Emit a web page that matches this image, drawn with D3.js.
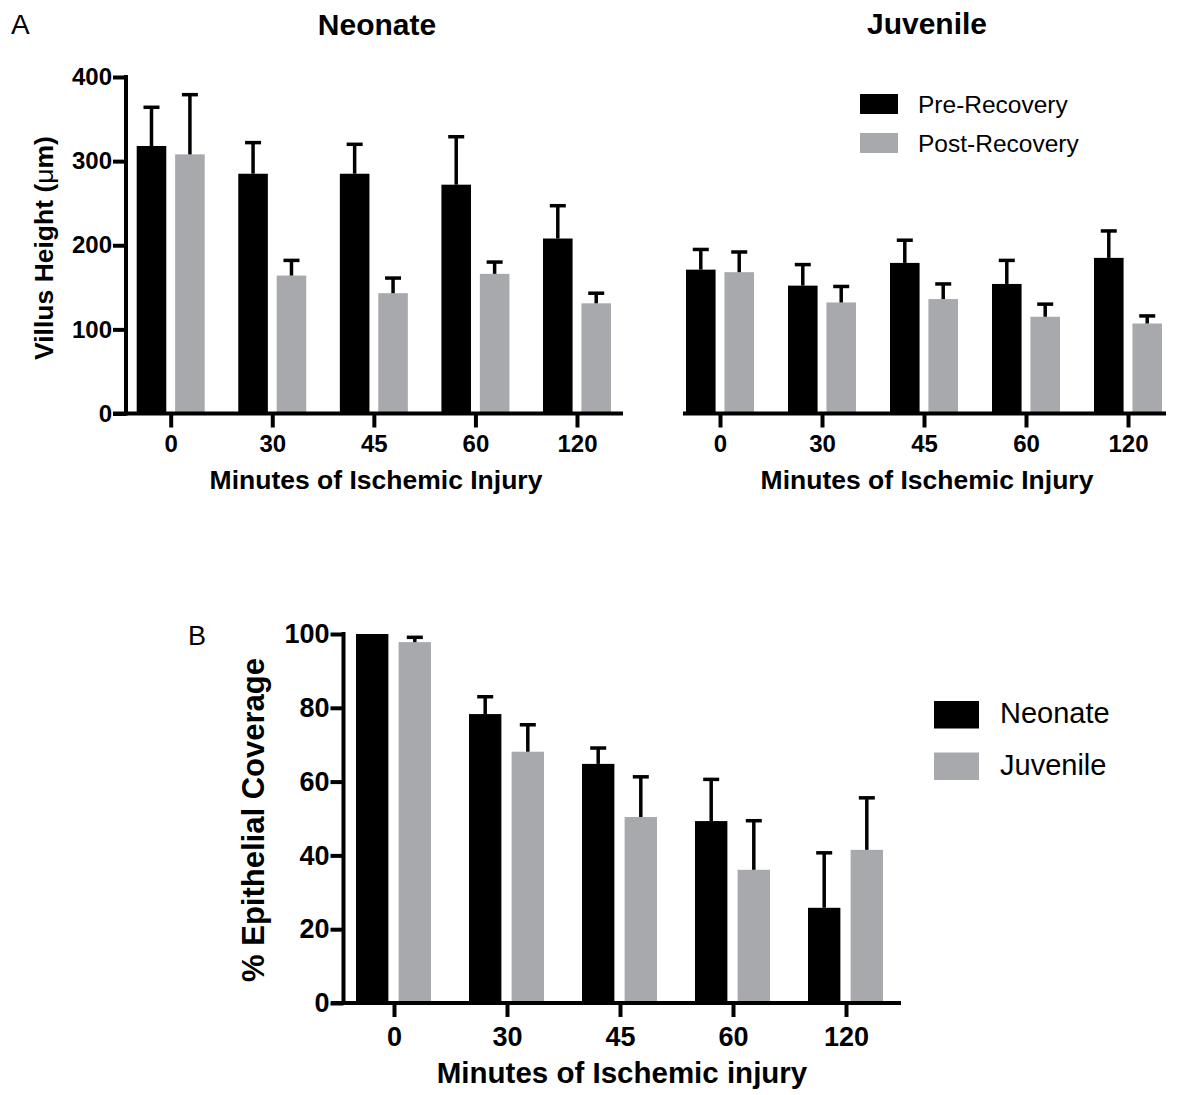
<!DOCTYPE html>
<html>
<head>
<meta charset="utf-8">
<script src="https://cdn.jsdelivr.net/npm/d3@7"></script>
<style>
  body { margin: 0; background: #fff; }
  svg { display: block; font-family: "Liberation Sans", Arial, sans-serif; }
</style>
</head>
<body>
<div id="chart"></div>
<script>
// minutes of ischemic injury
const categories = ['0', '30', '45', '60', '120'];

// panel A, villus height (um): means and upper error (SEM)
const neonatePre = [318, 285, 285, 272, 208];
const neonatePreErr = [46, 37, 35, 57, 39];
const neonatePost = [308, 164, 143, 166, 131];
const neonatePostErr = [71, 18, 18, 14, 12];

const juvenilePre = [171, 152, 179, 154, 185];
const juvenilePreErr = [24, 25, 27, 28, 32];
const juvenilePost = [168, 132, 136, 115, 107];
const juvenilePostErr = [24, 19, 18, 15, 9];

const heightTicks = [0, 100, 200, 300, 400];

// panel B, % epithelial coverage
const coverageNeonate = [100, 78.3, 64.8, 49.3, 25.8];
const coverageNeonateErr = [0, 4.7, 4.3, 11.3, 14.9];
const coverageJuvenile = [97.8, 68.1, 50.4, 36.1, 41.5];
const coverageJuvenileErr = [1.3, 7.3, 10.9, 13.3, 14.1];

const coverageTicks = [0, 20, 40, 60, 80, 100];

const BLACK = '#000';
const GRAY = '#a8a9ac';

const svg = d3.select('#chart')
  .append('svg')
  .attr('width', 1179)
  .attr('height', 1095);

function drawBars(x, y, inner, series) {
  const g = svg.append('g');
  series.forEach((s, si) => {
    const key = inner.domain()[si];
    const rows = categories.map((c, i) => ({ c, v: s.values[i], e: s.errors[i] }));
    g.selectAll(null)
      .data(rows)
      .enter()
      .append('rect')
      .attr('x', d => x(d.c) + inner(key))
      .attr('y', d => y(d.v))
      .attr('width', inner.bandwidth())
      .attr('height', d => y(0) - y(d.v))
      .attr('fill', s.color);

    const err = rows.filter(d => d.e > 0);
    const cx = d => x(d.c) + inner(key) + inner.bandwidth() / 2;
    g.selectAll(null)
      .data(err)
      .enter()
      .append('line')
      .attr('x1', cx).attr('x2', cx)
      .attr('y1', d => y(d.v)).attr('y2', d => y(d.v + d.e))
      .attr('stroke', '#000').attr('stroke-width', 3.5);
    g.selectAll(null)
      .data(err)
      .enter()
      .append('line')
      .attr('x1', d => cx(d) - 8).attr('x2', d => cx(d) + 8)
      .attr('y1', d => y(d.v + d.e)).attr('y2', d => y(d.v + d.e))
      .attr('stroke', '#000').attr('stroke-width', 3.5);
  });
}

function drawXAxis(x, y, x0, x1, fontSize, pad) {
  const g = svg.append('g')
    .attr('transform', `translate(0,${y(0)})`)
    .call(d3.axisBottom(x).tickSize(14).tickPadding(pad));
  g.select('.domain').remove();
  g.selectAll('.tick line').attr('stroke', '#000').attr('stroke-width', 4);
  g.selectAll('.tick text')
    .attr('fill', '#000')
    .style('font-family', '"Liberation Sans", Arial, sans-serif')
    .style('font-weight', 'bold')
    .style('font-size', fontSize + 'px');
  svg.append('line')
    .attr('x1', x0).attr('x2', x1)
    .attr('y1', y(0)).attr('y2', y(0))
    .attr('stroke', '#000').attr('stroke-width', 4);
}

function drawYAxis(y, ax, ticks, fontSize) {
  const g = svg.append('g')
    .attr('transform', `translate(${ax},0)`)
    .call(d3.axisLeft(y).tickValues(ticks).tickSize(13).tickPadding(1));
  g.select('.domain').remove();
  g.selectAll('.tick line').attr('stroke', '#000').attr('stroke-width', 4);
  g.selectAll('.tick text')
    .attr('fill', '#000')
    .style('font-family', '"Liberation Sans", Arial, sans-serif')
    .style('font-weight', 'bold')
    .style('font-size', fontSize + 'px');
  const [lo, hi] = d3.extent(ticks);
  svg.append('line')
    .attr('x1', ax).attr('x2', ax)
    .attr('y1', y(hi) - 2).attr('y2', y(lo) + 2)
    .attr('stroke', '#000').attr('stroke-width', 4);
}

function text(x, y, str, size, weight, anchor, rotate) {
  const t = svg.append('text')
    .attr('x', x).attr('y', y)
    .attr('font-size', size)
    .attr('font-weight', weight)
    .attr('text-anchor', anchor || 'start')
    .attr('fill', '#000')
    .text(str);
  if (rotate) t.attr('transform', `rotate(-90,${x},${y})`);
  return t;
}

// ---- panel A ----
const yTop = d3.scaleLinear().domain([0, 400]).range([413.5, 77]);
const innerTop = d3.scaleBand().domain(['pre', 'post']).range([-34, 34]).paddingInner(0.23);

const xNeo = d3.scalePoint().domain(categories).range([170.7, 577]);
drawBars(xNeo, yTop, innerTop, [
  { values: neonatePre, errors: neonatePreErr, color: BLACK },
  { values: neonatePost, errors: neonatePostErr, color: GRAY }
]);
drawXAxis(xNeo, yTop, 113, 623, 24, 7);
drawYAxis(yTop, 126, heightTicks, 24);

const xJuv = d3.scalePoint().domain(categories).range([720, 1128]);
drawBars(xJuv, yTop, innerTop, [
  { values: juvenilePre, errors: juvenilePreErr, color: BLACK },
  { values: juvenilePost, errors: juvenilePostErr, color: GRAY }
]);
drawXAxis(xJuv, yTop, 683, 1166, 24, 7);

text(11, 34, 'A', 28, 'normal');
text(377, 35, 'Neonate', 30, 'bold', 'middle');
text(927, 34, 'Juvenile', 30, 'bold', 'middle');
text(376, 489, 'Minutes of Ischemic Injury', 26.5, 'bold', 'middle');
text(927, 489, 'Minutes of Ischemic Injury', 26.5, 'bold', 'middle');

const yTitle = text(53, 248, '', 26.5, 'bold', 'middle', true);
yTitle.append('tspan').text('Villus Height (');
yTitle.append('tspan').attr('font-weight', 'normal').text('\u03bc');
yTitle.append('tspan').text('m)');

const legendTop = [
  { label: 'Pre-Recovery', color: BLACK },
  { label: 'Post-Recovery', color: GRAY }
];
legendTop.forEach((d, i) => {
  svg.append('rect')
    .attr('x', 860).attr('y', 94 + i * 39)
    .attr('width', 38).attr('height', 20)
    .attr('fill', d.color);
  text(918, 113 + i * 39, d.label, 24.5, 'normal');
});

// ---- panel B ----
const yBot = d3.scaleLinear().domain([0, 100]).range([1003, 634]);
const xBot = d3.scalePoint().domain(categories).range([394, 846]);
const innerBot = d3.scaleBand().domain(['neo', 'juv']).range([-38, 37]).paddingInner(0.24);

drawBars(xBot, yBot, innerBot, [
  { values: coverageNeonate, errors: coverageNeonateErr, color: BLACK },
  { values: coverageJuvenile, errors: coverageJuvenileErr, color: GRAY }
]);
drawXAxis(xBot, yBot, 331, 901, 27, 10);
drawYAxis(yBot, 343.5, coverageTicks, 27);

text(188, 645, 'B', 27, 'normal');
text(622, 1083, 'Minutes of Ischemic injury', 29.5, 'bold', 'middle');
text(264, 820, '% Epithelial Coverage', 31, 'bold', 'middle', true);

const legendBot = [
  { label: 'Neonate', color: BLACK },
  { label: 'Juvenile', color: GRAY }
];
legendBot.forEach((d, i) => {
  svg.append('rect')
    .attr('x', 934).attr('y', 701 + i * 51.5)
    .attr('width', 45).attr('height', 27.5)
    .attr('fill', d.color);
  text(1000, 723 + i * 52, d.label, 29, 'normal');
});
</script>
</body>
</html>
